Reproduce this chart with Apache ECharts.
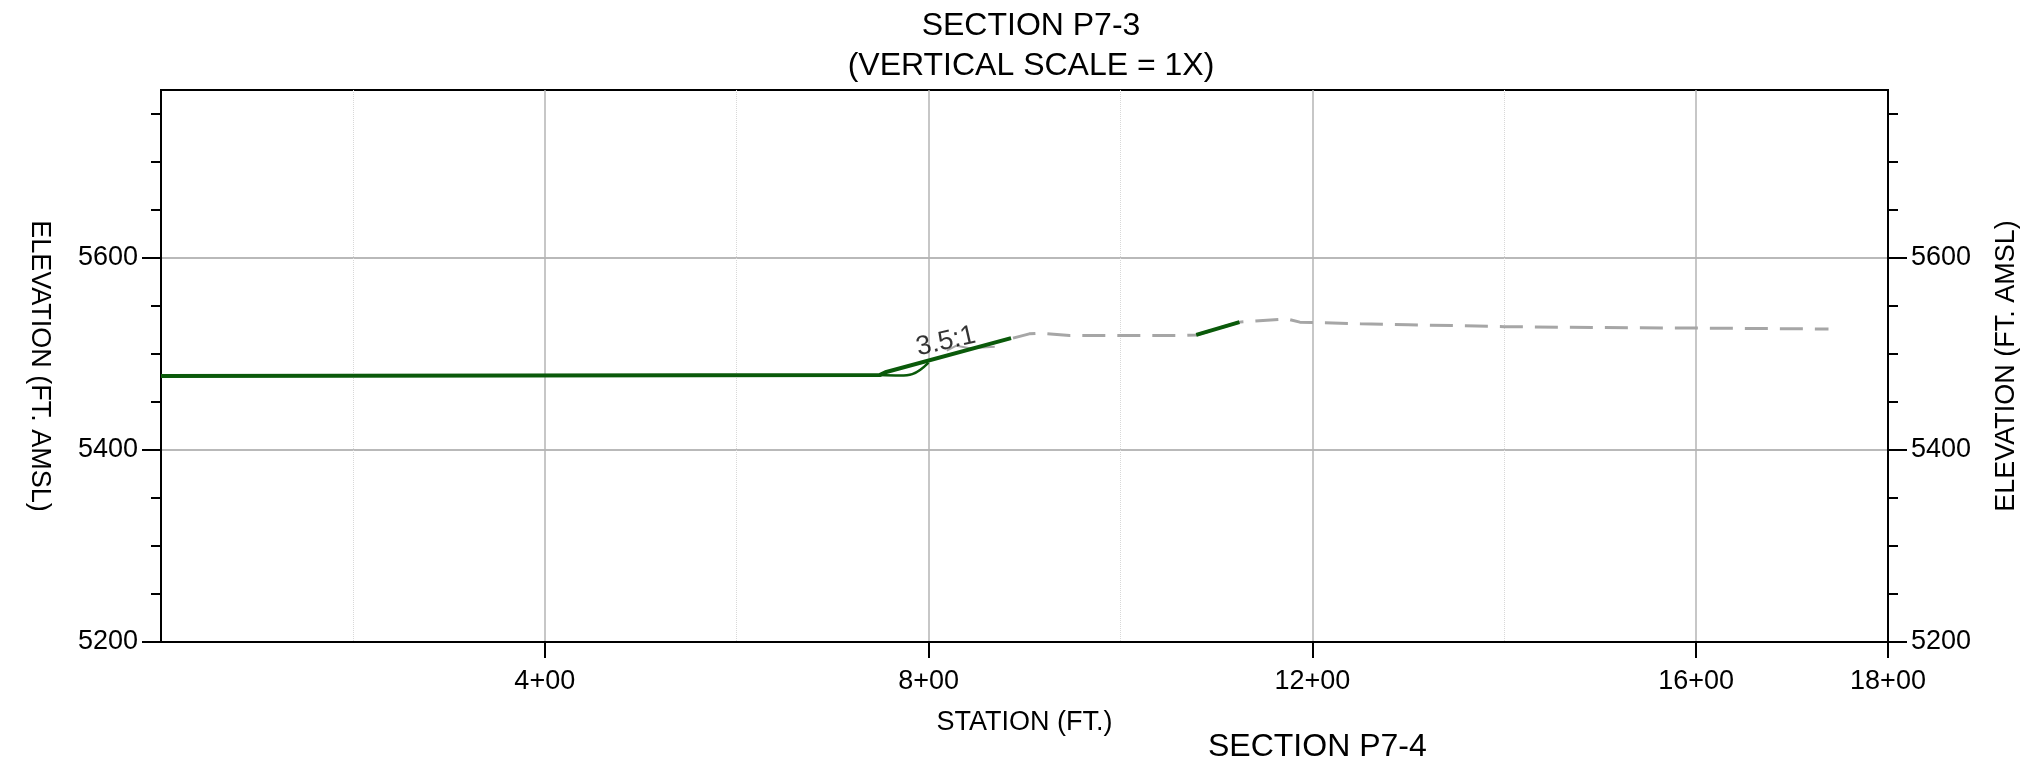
<!DOCTYPE html>
<html>
<head>
<meta charset="utf-8">
<title>Section P7-3</title>
<script src="https://cdn.jsdelivr.net/npm/echarts@6/dist/echarts.min.js"></script>
<style>
    html, body { margin: 0; padding: 0; background: #fff; }
    #chart { width: 2024px; height: 762px; }
</style>
</head>
<body>
<div id="chart"></div>
<script>
// Cross-section data, station (ft) vs elevation (ft AMSL)
const proposedGround = [[0, 5477], [749, 5478], [755, 5481], [886, 5516.5]];
const proposedToe = [[749, 5478], [770, 5477.5], [783, 5479], [800, 5491]];
const proposedBench = [[1079, 5520], [1124, 5533.2]];
const slopeSketch = [[819, 5503.5], [829, 5508.7], [843, 5506], [869, 5507.5]];
const existingGround = [
    [888, 5516.5], [905, 5521], [916, 5521.7], [947, 5519.3], [1065, 5519.3],
    [1079, 5519.8], [1124, 5533.2], [1173, 5536.6], [1187, 5533.2], [1200, 5532.8],
    [1250, 5531.5], [1300, 5530.5], [1400, 5528.5], [1500, 5527.5], [1600, 5527],
    [1738, 5526]
];
const slopeNote = [[818, 5513]];
const slopeText = '3.5:1';

const stationTicks = [400, 800, 1200, 1600, 1800];
const elevTicks = [5200, 5400, 5600];
const elevMinorTicks = [5250, 5300, 5350, 5450, 5500, 5550, 5650, 5700, 5750];

const FONT = '"Liberation Sans", Arial, sans-serif';
const black = '#000';
const gridGray = '#b4b4b4';

const chart = echarts.init(document.getElementById('chart'));

function majorY(position, nameRotate, nameGap) {
    return {
        type: 'value',
        position: position,
        min: 5200,
        max: 5775,
        interval: 200,
        name: 'ELEVATION (FT. AMSL)',
        nameLocation: 'middle',
        nameGap: nameGap,
        nameRotate: nameRotate,
        nameTextStyle: { color: black, fontSize: 27, fontFamily: FONT },
        axisLine: { show: true, lineStyle: { color: black, width: 2 } },
        axisTick: { show: true, length: 19, customValues: elevTicks, lineStyle: { color: black, width: 2 } },
        axisLabel: {
            customValues: elevTicks,
            color: black,
            fontSize: 27,
            fontFamily: FONT,
            margin: 23,
            formatter: v => String(v)
        },
        splitLine: { show: true, lineStyle: { color: gridGray, width: 1.5 } }
    };
}

function minorY(position) {
    return {
        type: 'value',
        position: position,
        min: 5200,
        max: 5775,
        axisLine: { show: false },
        axisTick: { show: true, length: 10, customValues: elevMinorTicks, lineStyle: { color: black, width: 2 } },
        axisLabel: { show: false },
        splitLine: { show: false }
    };
}

const option = {
    backgroundColor: '#fff',
    animation: false,
    title: {
        text: 'SECTION P7-3\n(VERTICAL SCALE = 1X)',
        left: 1026,
        textAlign: 'center',
        top: 1,
        textStyle: { color: black, fontSize: 32, fontWeight: 'normal', fontFamily: FONT, lineHeight: 40 }
    },
    graphic: [{
        type: 'text',
        left: 1208,
        top: 731,
        style: { text: 'SECTION P7-4', fill: black, fontSize: 32, fontFamily: FONT }
    }],
    grid: {
        show: true,
        left: 161,
        right: 136,
        top: 90,
        bottom: 120,
        outerBoundsMode: 'none',
        containLabel: false,
        borderColor: black,
        borderWidth: 2,
        backgroundColor: 'transparent'
    },
    xAxis: [{
        type: 'value',
        min: 0,
        max: 1800,
        interval: 400,
        name: 'STATION (FT.)',
        nameLocation: 'middle',
        nameGap: 67,
        nameTextStyle: { color: black, fontSize: 27, fontFamily: FONT },
        axisLine: { show: true, lineStyle: { color: black, width: 2 } },
        axisTick: { show: true, length: 16, customValues: stationTicks, lineStyle: { color: black, width: 2 } },
        axisLabel: {
            customValues: stationTicks,
            color: black,
            fontSize: 27,
            fontFamily: FONT,
            margin: 26,
            formatter: v => (v / 100) + '+00'
        },
        splitLine: { show: true, lineStyle: { color: gridGray, width: 1.5 } }
    }, {
        // minor vertical grid every other 200 ft
        type: 'value',
        min: 0,
        max: 1800,
        interval: 200,
        axisLine: { show: false },
        axisTick: { show: false },
        axisLabel: { show: false },
        splitLine: { show: true, lineStyle: { color: ['rgba(0,0,0,0)', '#d8d8d8'], width: 1, type: 'dotted' } }
    }],
    yAxis: [majorY('left', -90, 108), minorY('left'), majorY('right', 90, 105), minorY('right')],
    series: [{
        name: 'Existing ground',
        type: 'line',
        data: existingGround,
        symbol: 'none',
        lineStyle: { color: '#a6a6a6', width: 3, type: [23, 12] },
        z: 2
    }, {
        name: 'Slope sketch',
        type: 'line',
        data: slopeSketch,
        symbol: 'none',
        lineStyle: { color: '#a6a6a6', width: 2 },
        z: 2
    }, {
        name: 'Proposed toe',
        type: 'line',
        data: proposedToe,
        symbol: 'none',
        smooth: 0.4,
        lineStyle: { color: '#0a5a0a', width: 2.5 },
        z: 3
    }, {
        name: 'Proposed ground',
        type: 'line',
        data: proposedGround,
        symbol: 'none',
        lineStyle: { color: '#0a5a0a', width: 4 },
        z: 4
    }, {
        name: 'Proposed bench',
        type: 'line',
        data: proposedBench,
        symbol: 'none',
        lineStyle: { color: '#0a5a0a', width: 4 },
        z: 4
    }, {
        name: 'Slope label',
        type: 'scatter',
        data: slopeNote,
        symbolSize: 1,
        itemStyle: { color: 'rgba(0,0,0,0)' },
        label: {
            show: true,
            position: 'inside',
            formatter: slopeText,
            rotate: 13,
            color: black,
            textBorderWidth: 0,
            fontSize: 27,
            fontFamily: FONT
        },
        z: 5
    }]
};

chart.setOption(option);
window.addEventListener('resize', () => chart.resize());
</script>
</body>
</html>
